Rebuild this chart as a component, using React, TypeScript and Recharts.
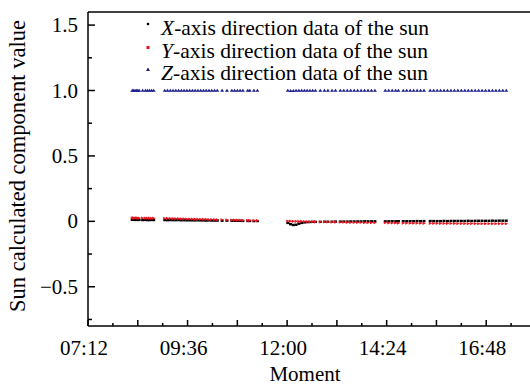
import React from 'react';
import { Legend, ReferenceLine, Scatter, ScatterChart, XAxis, YAxis } from 'recharts';

// sample moments (HH:MM)
const times = [
  '08:16', '08:18', '08:20', '08:22', '08:24', '08:26', '08:31', '08:35', '08:38', '08:41', '08:44', '08:47',
  '09:03', '09:07', '09:11', '09:15', '09:19', '09:23', '09:27', '09:31', '09:35', '09:39',
  '09:43', '09:47', '09:51', '09:55', '09:59', '10:03', '10:07', '10:11', '10:15',
  '10:19', '10:26', '10:33',
  '10:40', '10:44', '10:48', '10:52', '10:56',
  '11:03', '11:06', '11:12', '11:17',
  '12:01', '12:05', '12:09', '12:13', '12:17', '12:21', '12:25', '12:29', '12:33', '12:37', '12:41',
  '12:48', '12:54', '12:59', '13:05', '13:10',
  '13:17', '13:22', '13:27', '13:32', '13:37', '13:42', '13:47', '13:52', '13:57', '14:02', '14:07',
  '14:22', '14:27', '14:32', '14:37', '14:41',
  '14:48', '14:53', '14:58', '15:03', '15:08', '15:13', '15:18',
  '15:27', '15:32', '15:37', '15:42', '15:47', '15:52', '15:57', '16:02', '16:07', '16:12', '16:17', '16:22',
  '16:27', '16:32', '16:37', '16:42', '16:47', '16:52', '16:57', '17:02', '17:07', '17:12', '17:17',
];

const xValues = [
  0.012, 0.012, 0.011, 0.012, 0.011, 0.011, 0.010, 0.011, 0.010, 0.010, 0.011, 0.010,
  0.010, 0.009, 0.010, 0.009, 0.009, 0.010, 0.008, 0.009, 0.008, 0.008,
  0.008, 0.007, 0.008, 0.007, 0.007, 0.006, 0.007, 0.006, 0.006,
  0.006, 0.005, 0.005,
  0.005, 0.004, 0.004, 0.004, 0.003,
  0.003, 0.003, 0.002, 0.002,
  -0.012, -0.022, -0.028, -0.026, -0.018, -0.012, -0.008, -0.006, -0.005, -0.004, -0.004,
  -0.004, -0.003, -0.003, -0.003, -0.002,
  -0.002, -0.002, -0.002, -0.001, -0.001, -0.001, -0.001, 0.0, 0.0, 0.0, 0.0,
  0.0, 0.0, 0.001, 0.0, 0.001,
  0.001, 0.001, 0.001, 0.001, 0.002, 0.001, 0.002,
  0.002, 0.002, 0.002, 0.002, 0.003, 0.002, 0.003, 0.003, 0.003, 0.003, 0.003, 0.004,
  0.003, 0.004, 0.004, 0.004, 0.004, 0.004, 0.005, 0.004, 0.005, 0.005, 0.005,
];

const yValues = [
  0.026, 0.026, 0.025, 0.026, 0.025, 0.025, 0.025, 0.024, 0.024, 0.024, 0.023, 0.024,
  0.022, 0.022, 0.021, 0.021, 0.020, 0.020, 0.019, 0.019, 0.018, 0.018,
  0.017, 0.017, 0.016, 0.016, 0.015, 0.015, 0.014, 0.014, 0.013,
  0.013, 0.012, 0.011,
  0.010, 0.010, 0.009, 0.009, 0.008,
  0.007, 0.007, 0.006, 0.006,
  0.002, 0.001, 0.0, 0.0, -0.001, -0.001, -0.002, -0.002, -0.003, -0.003, -0.004,
  -0.004, -0.005, -0.005, -0.006, -0.006,
  -0.007, -0.007, -0.008, -0.008, -0.008, -0.009, -0.009, -0.010, -0.010, -0.010, -0.011,
  -0.011, -0.012, -0.012, -0.012, -0.013,
  -0.013, -0.013, -0.014, -0.014, -0.014, -0.014, -0.015,
  -0.015, -0.015, -0.015, -0.016, -0.016, -0.016, -0.016, -0.016, -0.017, -0.017, -0.017, -0.017,
  -0.017, -0.017, -0.018, -0.018, -0.018, -0.018, -0.018, -0.018, -0.018, -0.018, -0.018,
];

const zValues = [
  1.0, 1.0, 1.0, 1.0, 1.0, 1.0, 1.0, 1.0, 1.0, 1.0, 1.0, 1.0,
  1.0, 1.0, 1.0, 1.0, 1.0, 1.0, 1.0, 1.0, 1.0, 1.0,
  1.0, 1.0, 1.0, 1.0, 1.0, 1.0, 1.0, 1.0, 1.0,
  1.0, 1.0, 1.0,
  1.0, 1.0, 1.0, 1.0, 1.0,
  1.0, 1.0, 1.0, 1.0,
  1.0, 0.999, 0.999, 1.0, 1.0, 1.0, 1.0, 1.0, 1.0, 1.0, 1.0,
  1.0, 1.0, 1.0, 1.0, 1.0,
  1.0, 1.0, 1.0, 1.0, 1.0, 1.0, 1.0, 1.0, 1.0, 1.0, 1.0,
  1.0, 1.0, 1.0, 1.0, 1.0,
  1.0, 1.0, 1.0, 1.0, 1.0, 1.0, 1.0,
  1.0, 1.0, 1.0, 1.0, 1.0, 1.0, 1.0, 1.0, 1.0, 1.0, 1.0, 1.0,
  1.0, 1.0, 1.0, 1.0, 1.0, 1.0, 1.0, 1.0, 1.0, 1.0, 1.0,
];

// axis ticks: x in minutes after midnight, every 36 min from 07:12 to 18:00
const xTicks = [432, 468, 504, 540, 576, 612, 648, 684, 720, 756, 792, 828, 864, 900, 936, 972, 1008, 1044, 1080];
const xTickLabels = ['07:12', '09:36', '12:00', '14:24', '16:48'];
const yTicks = [-0.75, -0.5, -0.25, 0, 0.25, 0.5, 0.75, 1, 1.25, 1.5];
const yTickLabels: Record<string, string> = { '-0.5': '\u22120.5', '0': '0', '0.5': '0.5', '1': '1.0', '1.5': '1.5' };

const FONT = "'Liberation Serif', 'Times New Roman', serif";
const NAVY = '#1e1e8c';
const RED = '#e8141e';

const toMinutes = (s: string) => {
  const [h, m] = s.split(':').map(Number);
  return h * 60 + m;
};
const fmtTime = (v: number) =>
  `${String(Math.floor(v / 60)).padStart(2, '0')}:${String(v % 60).padStart(2, '0')}`;

const xData = times.map((t, i) => ({ t: toMinutes(t), v: xValues[i] }));
const yData = times.map((t, i) => ({ t: toMinutes(t), v: yValues[i] }));
const zData = times.map((t, i) => ({ t: toMinutes(t), v: zValues[i] }));

const dotX = (p: any) => <rect x={p.cx - 1.5} y={p.cy - 1.2} width={3} height={2.4} fill="#000" />;
const dotY = (p: any) => (
  <polygon points={`${p.cx - 1.5},${p.cy - 1.6} ${p.cx + 2},${p.cy} ${p.cx - 1.5},${p.cy + 1.6}`} fill={RED} />
);
const dotZ = (p: any) => (
  <polygon points={`${p.cx - 2},${p.cy + 1.3} ${p.cx + 2},${p.cy + 1.3} ${p.cx},${p.cy - 1.7}`} fill={NAVY} />
);

const legendItems = [
  { letter: 'X', color: '#000', marker: <circle cx={5} cy={6} r={1.3} fill="#000" /> },
  { letter: 'Y', color: RED, marker: <rect x={3.5} y={5} width={3} height={3} fill={RED} /> },
  { letter: 'Z', color: NAVY, marker: <polygon points="3,8 7,8 5,4.5" fill={NAVY} /> },
];

const XTick = (props: any) => {
  const { x, y, payload } = props;
  const v = payload.value as number;
  const major = v % 72 === 0;
  const label = fmtTime(v);
  return (
    <g>
      <line x1={x} y1={y} x2={x} y2={y - (major ? 6 : 3)} stroke="#000" strokeWidth={1.5} />
      {xTickLabels.includes(label) && (
        <text x={x - 4} y={y + 29} textAnchor="middle" fontFamily={FONT} fontSize={21} fill="#000">
          {label}
        </text>
      )}
    </g>
  );
};

const YTick = (props: any) => {
  const { x, y, payload } = props;
  const key = String(payload.value);
  const label = yTickLabels[key];
  return (
    <g>
      <line x1={x} y1={y} x2={x + (label ? 7 : 4)} y2={y} stroke="#000" strokeWidth={1.5} />
      {label && (
        <text x={x - 10} y={y + 7} textAnchor="end" fontFamily={FONT} fontSize={21} fill="#000">
          {label}
        </text>
      )}
    </g>
  );
};

const renderLegend = (props: any) => {
  const payload = props.payload || [];
  return (
    <div style={{ fontFamily: FONT, fontSize: 21.5, lineHeight: '22.5px', color: '#000' }}>
      {payload.map((entry: any, i: number) => {
        const item = legendItems[i];
        const rest = String(entry.value).slice(1);
        return (
          <div key={entry.value} style={{ display: 'flex', alignItems: 'flex-start', whiteSpace: 'nowrap' }}>
            <svg width={10} height={12} style={{ marginTop: 1, marginRight: 8 }}>
              {item.marker}
            </svg>
            <span>
              <i>{item.letter}</i>
              {rest}
            </span>
          </div>
        );
      })}
    </div>
  );
};

export default function App() {
  return (
    <div style={{ position: 'fixed', left: 0, top: 0, width: 530, height: 387, overflow: 'hidden', background: '#fff' }}>
      <ScatterChart width={540} height={387} margin={{ top: 12, right: 4, bottom: 31, left: 28 }}>
        <XAxis
          type="number"
          dataKey="t"
          domain={[432, 1080]}
          ticks={xTicks}
          interval={0}
          height={30}
          tickSize={0}
          tickMargin={0}
          tick={<XTick />}
          axisLine={{ stroke: '#000', strokeWidth: 1.5 }}
          allowDataOverflow
        />
        <YAxis
          type="number"
          dataKey="v"
          domain={[-0.8, 1.6]}
          ticks={yTicks}
          interval={0}
          width={60}
          tickSize={0}
          tickMargin={0}
          tick={<YTick />}
          axisLine={{ stroke: '#000', strokeWidth: 1.5 }}
          allowDataOverflow
        />
        <ReferenceLine y={1.6} stroke="#000" strokeWidth={1.5} />
        <ReferenceLine x={1080} stroke="#000" strokeWidth={1.5} />
        <Legend
          layout="vertical"
          align="center"
          verticalAlign="middle"
          content={renderLegend}
          wrapperStyle={{ top: 17, left: 143, width: 'auto', height: 'auto' }}
        />
        <Scatter name="X-axis direction data of the sun" data={xData} fill="#000" shape={dotX} isAnimationActive={false} />
        <Scatter name="Y-axis direction data of the sun" data={yData} fill={RED} shape={dotY} isAnimationActive={false} />
        <Scatter name="Z-axis direction data of the sun" data={zData} fill={NAVY} shape={dotZ} isAnimationActive={false} />
        <text x={305} y={381} textAnchor="middle" fontFamily={FONT} fontSize={21} fill="#000">
          Moment
        </text>
        <text
          x={0}
          y={0}
          transform="translate(25 166) rotate(-90)"
          textAnchor="middle"
          fontFamily={FONT}
          fontSize={22.5}
          fill="#000"
        >
          Sun calculated component value
        </text>
      </ScatterChart>
    </div>
  );
}
